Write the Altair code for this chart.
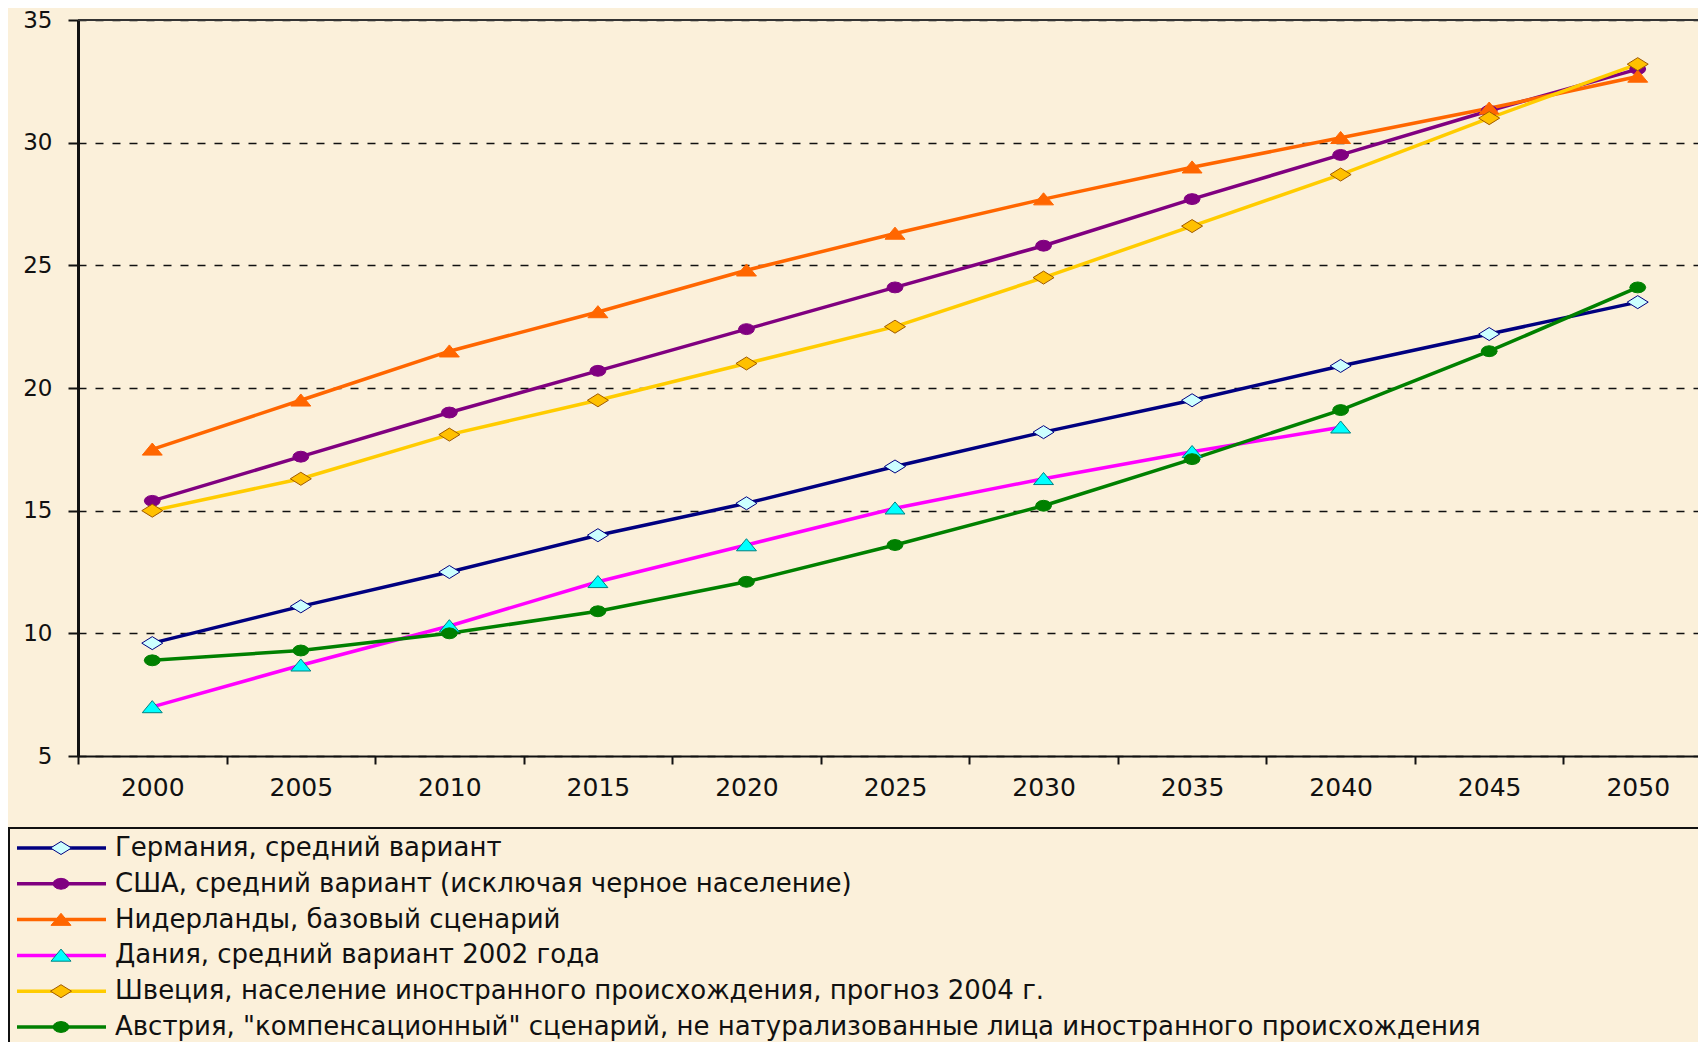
import altair as alt
import pandas as pd

years = ["2000", "2005", "2010", "2015", "2020", "2025", "2030", "2035", "2040", "2045", "2050"]

series = [
    "Германия, средний вариант",
    "США, средний вариант (исключая черное население)",
    "Нидерланды, базовый сценарий",
    "Дания, средний вариант 2002 года",
    "Швеция, население иностранного происхождения, прогноз 2004 г.",
    'Австрия, "компенсационный" сценарий, не натурализованные лица иностранного происхождения',
]

germany = [9.6, 11.1, 12.5, 14.0, 15.3, 16.8, 18.2, 19.5, 20.9, 22.2, 23.5]
usa = [15.4, 17.2, 19.0, 20.7, 22.4, 24.1, 25.8, 27.7, 29.5, 31.3, 33.0]
netherlands = [17.5, 19.5, 21.5, 23.1, 24.8, 26.3, 27.7, 29.0, 30.2, 31.4, 32.7]
denmark = [7.0, 8.7, 10.3, 12.1, 13.6, 15.1, 16.3, 17.4, 18.4, None, None]
sweden = [15.0, 16.3, 18.1, 19.5, 21.0, 22.5, 24.5, 26.6, 28.7, 31.0, 33.2]
austria = [8.9, 9.3, 10.0, 10.9, 12.1, 13.6, 15.2, 17.1, 19.1, 21.5, 24.1]

all_values = [germany, usa, netherlands, denmark, sweden, austria]

line_colors = ["#000080", "#800080", "#FF6600", "#FF00FF", "#FFCC00", "#008000"]
marker_fills = ["#CCFFFF", "#800080", "#FF6600", "#00FFFF", "#FFC000", "#008000"]
marker_strokes = ["#000080", "#800080", "#FF6600", "#008080", "#A05A00", "#008000"]

# marker outlines (all drawn at one symbol size, so the path extents set the size)
diamond = "M-1,0L0,-0.62L1,0L0,0.62Z"
ellipse = ("M0.76,0L0.658,0.26L0.38,0.45L0,0.52L-0.38,0.45L-0.658,0.26L-0.76,0"
           "L-0.658,-0.26L-0.38,-0.45L0,-0.52L0.38,-0.45L0.658,-0.26Z")
triangle = "M-0.95,0.55L0,-0.6L0.95,0.55Z"
marker_shapes = [diamond, ellipse, triangle, triangle, diamond, ellipse]

rows = []
for name, vals in zip(series, all_values):
    for yr, v in zip(years, vals):
        if v is not None:
            rows.append({"series": name, "year": yr, "value": v})
df = pd.DataFrame(rows)
legend_df = pd.DataFrame({"series": series})

FONT = "DejaVu Sans"

color_scale = alt.Scale(domain=series, range=line_colors)
fill_scale = alt.Scale(domain=series, range=marker_fills)
stroke_scale = alt.Scale(domain=series, range=marker_strokes)
shape_scale = alt.Scale(domain=series, range=marker_shapes)

x_enc = alt.X(
    "year:O",
    scale=alt.Scale(type="band", domain=years, range=[0, 1634], paddingInner=0, paddingOuter=0),
    bandPosition=0.5,
    axis=alt.Axis(
        title=None, labelAngle=0, tickBand="extent", tickSize=8, tickWidth=2,
        domainWidth=2, labelPadding=11, grid=False, labelFontSize=25,
    ),
)
y_enc = alt.Y(
    "value:Q",
    scale=alt.Scale(domain=[5, 35], nice=False, zero=False),
    axis=alt.Axis(
        title=None, values=[5, 10, 15, 20, 25, 30, 35], grid=True, gridDash=[8, 9],
        gridColor="#111111", gridWidth=1.6, tickSize=10, tickWidth=2, domainWidth=3,
        labelPadding=16, labelFontSize=23,
    ),
)

lines = alt.Chart(df).mark_line(strokeWidth=3.5).encode(
    x=x_enc, y=y_enc,
    color=alt.Color("series:N", scale=color_scale, legend=None),
    detail="series:N",
)
points = alt.Chart(df).mark_point(filled=True, opacity=1, strokeWidth=1, size=441).encode(
    x=x_enc,
    y=y_enc,
    fill=alt.Fill("series:N", scale=fill_scale, legend=None),
    stroke=alt.Stroke("series:N", scale=stroke_scale, legend=None),
    shape=alt.Shape("series:N", scale=shape_scale, legend=None),
)
main = alt.layer(lines, points)

top_rule = alt.Chart(legend_df.head(1)).mark_rule(color="#333333", strokeWidth=2).encode(
    x=alt.value(0), x2=alt.value(1640), y=alt.value(0)
)

legend_box = alt.Chart(legend_df.head(1)).mark_rect(
    fill="transparent", stroke="#111111", strokeWidth=2
).encode(x=alt.value(-69), x2=alt.value(1700), y=alt.value(808), y2=alt.value(1100))

ly = alt.Y("series:N", scale=alt.Scale(type="point", domain=series, range=[828, 1007], padding=0), axis=None)

lrule = alt.Chart(legend_df).mark_rule(strokeWidth=3.5).encode(
    x=alt.value(-61), x2=alt.value(28), y=ly,
    color=alt.Color("series:N", scale=color_scale, legend=None),
)
lpoint = alt.Chart(legend_df).mark_point(filled=True, opacity=1, strokeWidth=1, size=441).encode(
    x=alt.value(-17), y=ly,
    fill=alt.Fill("series:N", scale=fill_scale, legend=None),
    stroke=alt.Stroke("series:N", scale=stroke_scale, legend=None),
    shape=alt.Shape("series:N", scale=shape_scale, legend=None),
)
ltext = alt.Chart(legend_df).mark_text(
    align="left", baseline="middle", font=FONT, fontSize=26, color="#111111"
).encode(x=alt.value(37), y=ly, text="series:N")
legend = alt.layer(lrule, lpoint, ltext)

chart = (
    alt.layer(main, top_rule, legend_box, legend)
    .resolve_scale(y="independent")
    .properties(
        width=1620,
        height=736,
        autosize=alt.AutoSizeParams(type="none"),
        padding={"left": 70, "top": 12, "right": 0, "bottom": 290},
        background="#FBF0DA",
    )
    .configure_view(strokeWidth=0)
    .configure_axis(
        labelFont=FONT, labelColor="#111111",
        domainColor="#111111", tickColor="#111111",
    )
)

chart.save("out.html", embed_options={"renderer": "svg", "actions": False})
